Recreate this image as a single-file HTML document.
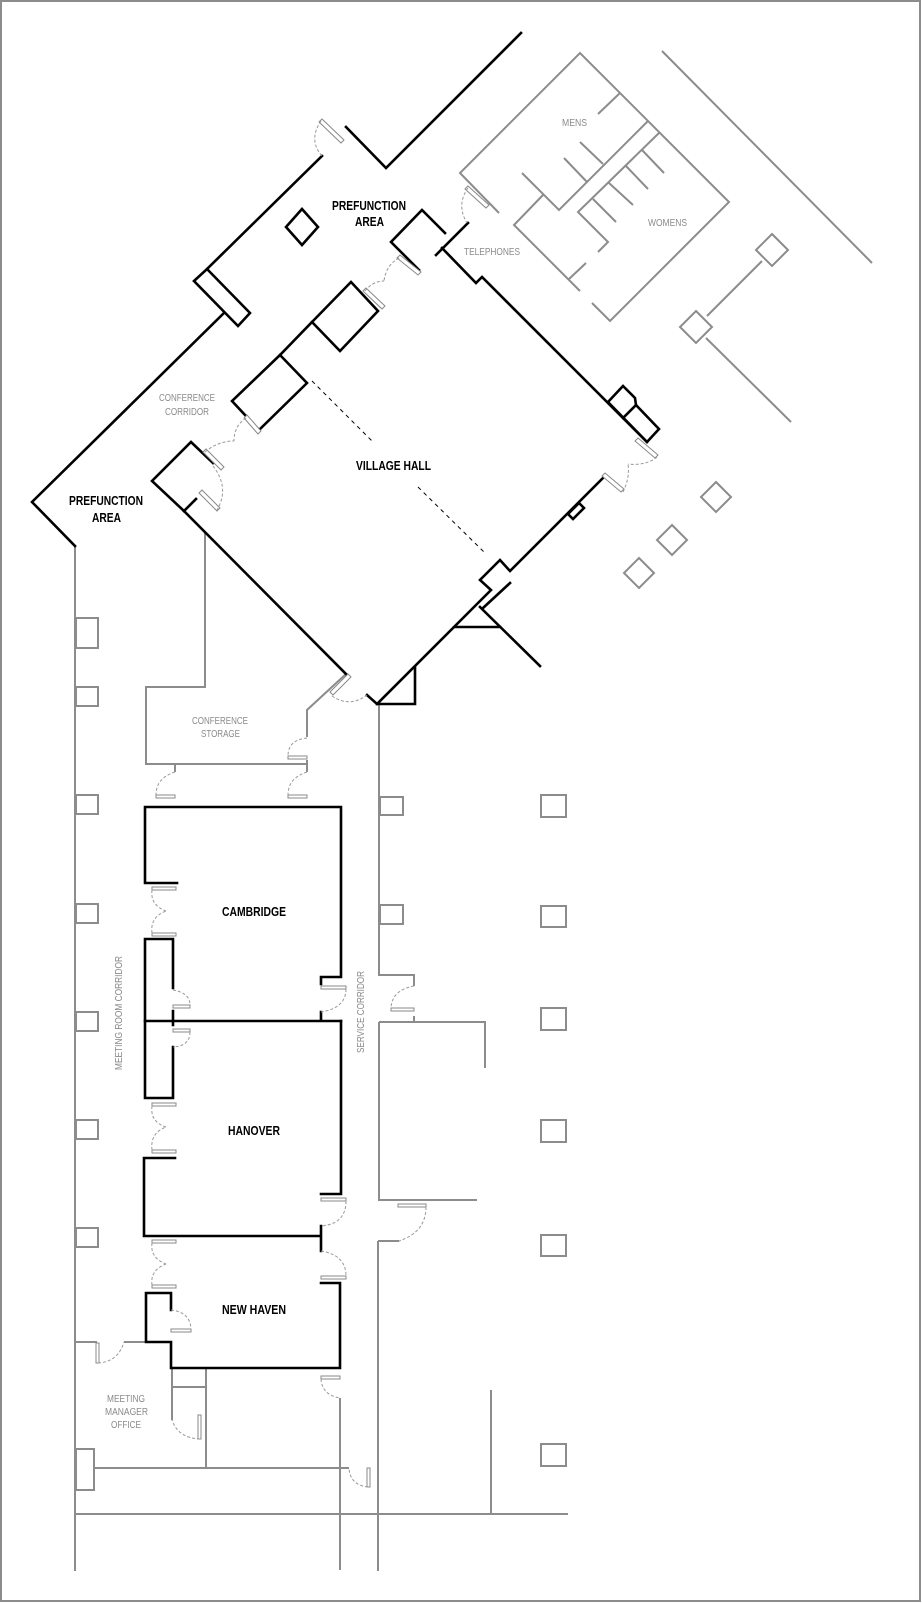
<!DOCTYPE html>
<html><head><meta charset="utf-8"><style>
html,body{margin:0;padding:0;background:#fff}
svg{display:block}
.b{fill:none;stroke:#000;stroke-width:2.6;stroke-linejoin:miter;stroke-linecap:square}
.g{fill:none;stroke:#8c8c8c;stroke-width:2;stroke-linecap:butt}
.lf{fill:#fff;stroke:#888;stroke-width:1}
.ar{fill:none;stroke:#999;stroke-width:1;stroke-dasharray:3,2}
.dl{fill:none;stroke:#000;stroke-width:1;stroke-dasharray:4,4}
.tb{font-family:"Liberation Sans",sans-serif;font-weight:bold;font-size:13px;fill:#000}
.tg{font-family:"Liberation Sans",sans-serif;font-size:10.5px;fill:#8a8a8a}
</style></head><body>
<svg width="922" height="1604" viewBox="0 0 922 1604" xmlns="http://www.w3.org/2000/svg">
<rect x="1" y="1" width="919" height="1600" fill="#fff" stroke="#8c8c8c" stroke-width="2"/>

<!-- grey background lines -->
<g class="g">
<path d="M75,546 L75,1571"/>
<path d="M205,533 L205,687 L146,687 L146,764 L307,764"/>
<path d="M346,674 L307,710 L307,737"/>
<path d="M307,760 L307,772 M175,764 L175,772"/>
<path d="M379,704 L379,975 L414,975 L414,986 M414,1016 L414,1022 M379,1022 L485,1022 L485,1068 M379,1022 L379,1200 L477,1200 M378,1241 L399,1241 M378,1241 L378,1571"/>
<path d="M340,1398 L340,1570"/>
<path d="M75,1342 L97,1342 M124,1342 L146,1342"/>
<path d="M172,1368 L172,1420 M172,1387 L206,1387 M206,1368 L206,1468"/>
<path d="M94,1468 L349,1468"/>
<path d="M76,1514 L568,1514 M491,1390 L491,1514"/>
<rect x="76" y="1449" width="18" height="41"/>
<!-- left corridor squares -->
<rect x="76" y="618" width="22" height="30"/>
<rect x="76" y="687" width="22" height="19"/>
<rect x="76" y="795" width="22" height="19"/>
<rect x="76" y="904" width="22" height="19"/>
<rect x="76" y="1012" width="22" height="19"/>
<rect x="76" y="1120" width="22" height="19"/>
<rect x="76" y="1228" width="22" height="19"/>
<!-- service corridor squares -->
<rect x="380" y="797" width="23" height="18"/>
<rect x="380" y="905" width="23" height="19"/>
<!-- right squares -->
<rect x="541" y="795" width="25" height="22"/>
<rect x="541" y="906" width="25" height="21"/>
<rect x="541" y="1008" width="25" height="22"/>
<rect x="541" y="1120" width="25" height="22"/>
<rect x="541" y="1235" width="25" height="21"/>
<rect x="541" y="1444" width="25" height="22"/>
<!-- restrooms -->
<path d="M499,213 L460,173 L580,53 L729,202 L610,321 L592,303"/>
<path d="M648,121 L559,210 L522,173"/>
<path d="M659,133 L578,212 L608,242 L598,252"/>
<path d="M543,195 L514,225 L580,291 M569,279 L586,263"/>
<path d="M620,93 L598,114 M580,142 L603,164 M564,158 L587,182"/>
<path d="M642,150 L664,173 M626,166 L648,189 M609,183 L633,205 M593,199 L616,222"/>
<!-- right exterior -->
<path d="M662,51 L872,263"/>
<polygon points="772,234 788,250 772,266 756,250"/>
<path d="M762,261 L707,316"/>
<polygon points="696,311 712,327 696,343 680,327"/>
<path d="M706,338 L791,422"/>
<polygon points="716,482 731,497 716,512 701,497"/>
<polygon points="672,525 687,540 672,555 657,540"/>
<polygon points="639,558 654,573 639,588 624,573"/>
</g>

<!-- black walls -->
<g class="b">
<path d="M521,33 L386,168 L346,127"/>
<path d="M322,156 L207,269"/>
<polygon points="194,281 207,269 250,313 238,326"/>
<path d="M224,313 L32,502 L75,546"/>
<polygon points="302,209 318,227 302,245 286,227"/>
<path d="M419,270 L391,242 L422,210 L445,233"/>
<path d="M468,223 L436,255"/>
<path d="M442,248 L476,283 L482,277 L647,442"/>
<polygon points="608,402 623,386 635,398 636,405 659,429 647,442"/>
<path d="M623,418 L636,405"/>
<polygon points="312,322 351,282 378,311 340,351"/>
<polygon points="280,355 307,383 259,430 232,401"/>
<path d="M280,355 L312,322"/>
<path d="M184,511 L152,481 L191,442 L213,463"/>
<path d="M184,511 L196,499"/>
<path d="M184,511 L346,674"/>
<path d="M604,477 L510,571 L500,560 L480,580 L491,590 L478,603 L377,704 L367,695"/>
<path d="M510,583 L483,608"/>
<path d="M480,607 L540,666"/>
<path d="M455,627 L500,627"/>
<path d="M415,667 L415,704 L377,704"/>
<polygon points="568,514 579,503 584,508 573,519"/>
<!-- rooms -->
<path d="M177,883 L145,883 L145,807 L341,807 L341,977 L321,977 L321,984"/>
<path d="M173,988 L173,939 L145,939 L145,1098 L173,1098 L173,1047 M173,1011 L173,1025"/>
<path d="M145,1021 L341,1021 M321,1012 L321,1021"/>
<path d="M341,1021 L341,1194 L321,1194"/>
<path d="M175,1158 L144,1158 L144,1236 L321,1236 M321,1226 L321,1251"/>
<path d="M321,1283 L340,1283 L340,1368 L171,1368 L171,1342 L146,1342 L146,1293 L171,1293 L171,1310"/>
</g>

<!-- dashed center line -->
<path class="dl" d="M312,381 L373,442 M418,487 L485,553"/>

<!-- doors: leaves -->
<g class="lf">
<polygon points="322,119 344,140 341,143 319,122"/>
<polygon points="400,255 421,272 418,275 397,258"/>
<polygon points="366,288 385,306 382,309 363,291"/>
<polygon points="247,415 261,431 258,434 244,418"/>
<polygon points="206,449 224,467 221,470 203,452"/>
<polygon points="202,490 220,508 217,511 199,493"/>
<polygon points="638,438 658,455 655,458 635,441"/>
<polygon points="605,473 624,489 621,492 602,476"/>
<polygon points="333,695 351,677 348,674 330,692"/>
<polygon points="468,186 489,205 486,208 465,189"/>
<rect x="288" y="756" width="19" height="3"/>
<rect x="156" y="795" width="19" height="3"/>
<rect x="288" y="795" width="19" height="3"/>
<rect x="152" y="887" width="24" height="3"/>
<rect x="152" y="933" width="24" height="3"/>
<rect x="173" y="1005" width="17" height="3"/>
<rect x="173" y="1029" width="17" height="3"/>
<rect x="321" y="986" width="25" height="3"/>
<rect x="152" y="1103" width="24" height="3"/>
<rect x="152" y="1150" width="24" height="3"/>
<rect x="321" y="1198" width="25" height="3"/>
<rect x="152" y="1240" width="24" height="3"/>
<rect x="152" y="1285" width="24" height="3"/>
<rect x="321" y="1276" width="25" height="3"/>
<rect x="171" y="1329" width="20" height="3"/>
<rect x="321" y="1376" width="19" height="3"/>
<rect x="96" y="1343" width="3" height="20"/>
<rect x="198" y="1415" width="3" height="24"/>
<rect x="367" y="1468" width="3" height="19"/>
<rect x="391" y="1008" width="23" height="3"/>
<rect x="398" y="1204" width="28" height="3"/>
</g>
<!-- doors: arcs -->
<g class="ar">
<path d="M321,121 Q308,140 322,156"/>
<path d="M399,258 Q386,265 384,281 M365,291 Q373,281 384,281"/>
<path d="M246,418 Q234,426 234,441 M205,452 Q218,441 234,441"/>
<path d="M213,466 Q230,488 217,510"/>
<path d="M657,457 Q646,466 628,464 M623,492 Q630,478 628,464"/>
<path d="M332,696 Q350,708 367,695"/>
<path d="M468,188 Q456,205 467,223"/>
<path d="M307,738 Q288,740 288,756"/>
<path d="M175,772 Q156,778 156,795 M307,772 Q288,778 288,795"/>
<path d="M152,890 Q150,905 166,911 M152,933 Q150,917 166,911"/>
<path d="M173,990 Q190,993 190,1005 M190,1032 Q190,1046 173,1047"/>
<path d="M346,989 Q346,1008 321,1012"/>
<path d="M152,1106 Q150,1122 166,1127 M152,1150 Q150,1133 166,1127"/>
<path d="M346,1201 Q346,1224 321,1226"/>
<path d="M152,1243 Q150,1258 166,1264 M152,1285 Q150,1270 166,1264"/>
<path d="M321,1251 Q346,1255 346,1276"/>
<path d="M171,1310 Q190,1312 191,1329"/>
<path d="M321,1379 Q322,1395 340,1398"/>
<path d="M98,1363 Q118,1362 124,1342"/>
<path d="M200,1439 Q178,1438 172,1420"/>
<path d="M368,1487 Q350,1485 349,1468"/>
<path d="M414,986 Q392,990 391,1008"/>
<path d="M426,1207 Q426,1232 399,1241"/>
</g>

<!-- labels -->
<text class="tb" x="332" y="210" textLength="74" lengthAdjust="spacingAndGlyphs">PREFUNCTION</text>
<text class="tb" x="355" y="226" textLength="29" lengthAdjust="spacingAndGlyphs">AREA</text>
<text class="tb" x="356" y="470" textLength="75" lengthAdjust="spacingAndGlyphs">VILLAGE HALL</text>
<text class="tb" x="69" y="505" textLength="74" lengthAdjust="spacingAndGlyphs">PREFUNCTION</text>
<text class="tb" x="92" y="522" textLength="29" lengthAdjust="spacingAndGlyphs">AREA</text>
<text class="tb" x="222" y="916" textLength="64" lengthAdjust="spacingAndGlyphs">CAMBRIDGE</text>
<text class="tb" x="228" y="1135" textLength="52" lengthAdjust="spacingAndGlyphs">HANOVER</text>
<text class="tb" x="222" y="1314" textLength="64" lengthAdjust="spacingAndGlyphs">NEW HAVEN</text>

<text class="tg" x="159" y="401" textLength="56" lengthAdjust="spacingAndGlyphs">CONFERENCE</text>
<text class="tg" x="165" y="415" textLength="44" lengthAdjust="spacingAndGlyphs">CORRIDOR</text>
<text class="tg" x="562" y="126" textLength="25" lengthAdjust="spacingAndGlyphs">MENS</text>
<text class="tg" x="648" y="226" textLength="39" lengthAdjust="spacingAndGlyphs">WOMENS</text>
<text class="tg" x="464" y="255" textLength="56" lengthAdjust="spacingAndGlyphs">TELEPHONES</text>
<text class="tg" x="192" y="724" textLength="56" lengthAdjust="spacingAndGlyphs">CONFERENCE</text>
<text class="tg" x="201" y="737" textLength="39" lengthAdjust="spacingAndGlyphs">STORAGE</text>
<text class="tg" x="107" y="1402" textLength="38" lengthAdjust="spacingAndGlyphs">MEETING</text>
<text class="tg" x="105" y="1415" textLength="43" lengthAdjust="spacingAndGlyphs">MANAGER</text>
<text class="tg" x="111" y="1428" textLength="30" lengthAdjust="spacingAndGlyphs">OFFICE</text>
<text class="tg" transform="translate(122,1070) rotate(-90)" x="0" y="0" textLength="114" lengthAdjust="spacingAndGlyphs">MEETING ROOM CORRIDOR</text>
<text class="tg" transform="translate(364,1053) rotate(-90)" x="0" y="0" textLength="82" lengthAdjust="spacingAndGlyphs">SERVICE CORRIDOR</text>
</svg>
</body></html>
